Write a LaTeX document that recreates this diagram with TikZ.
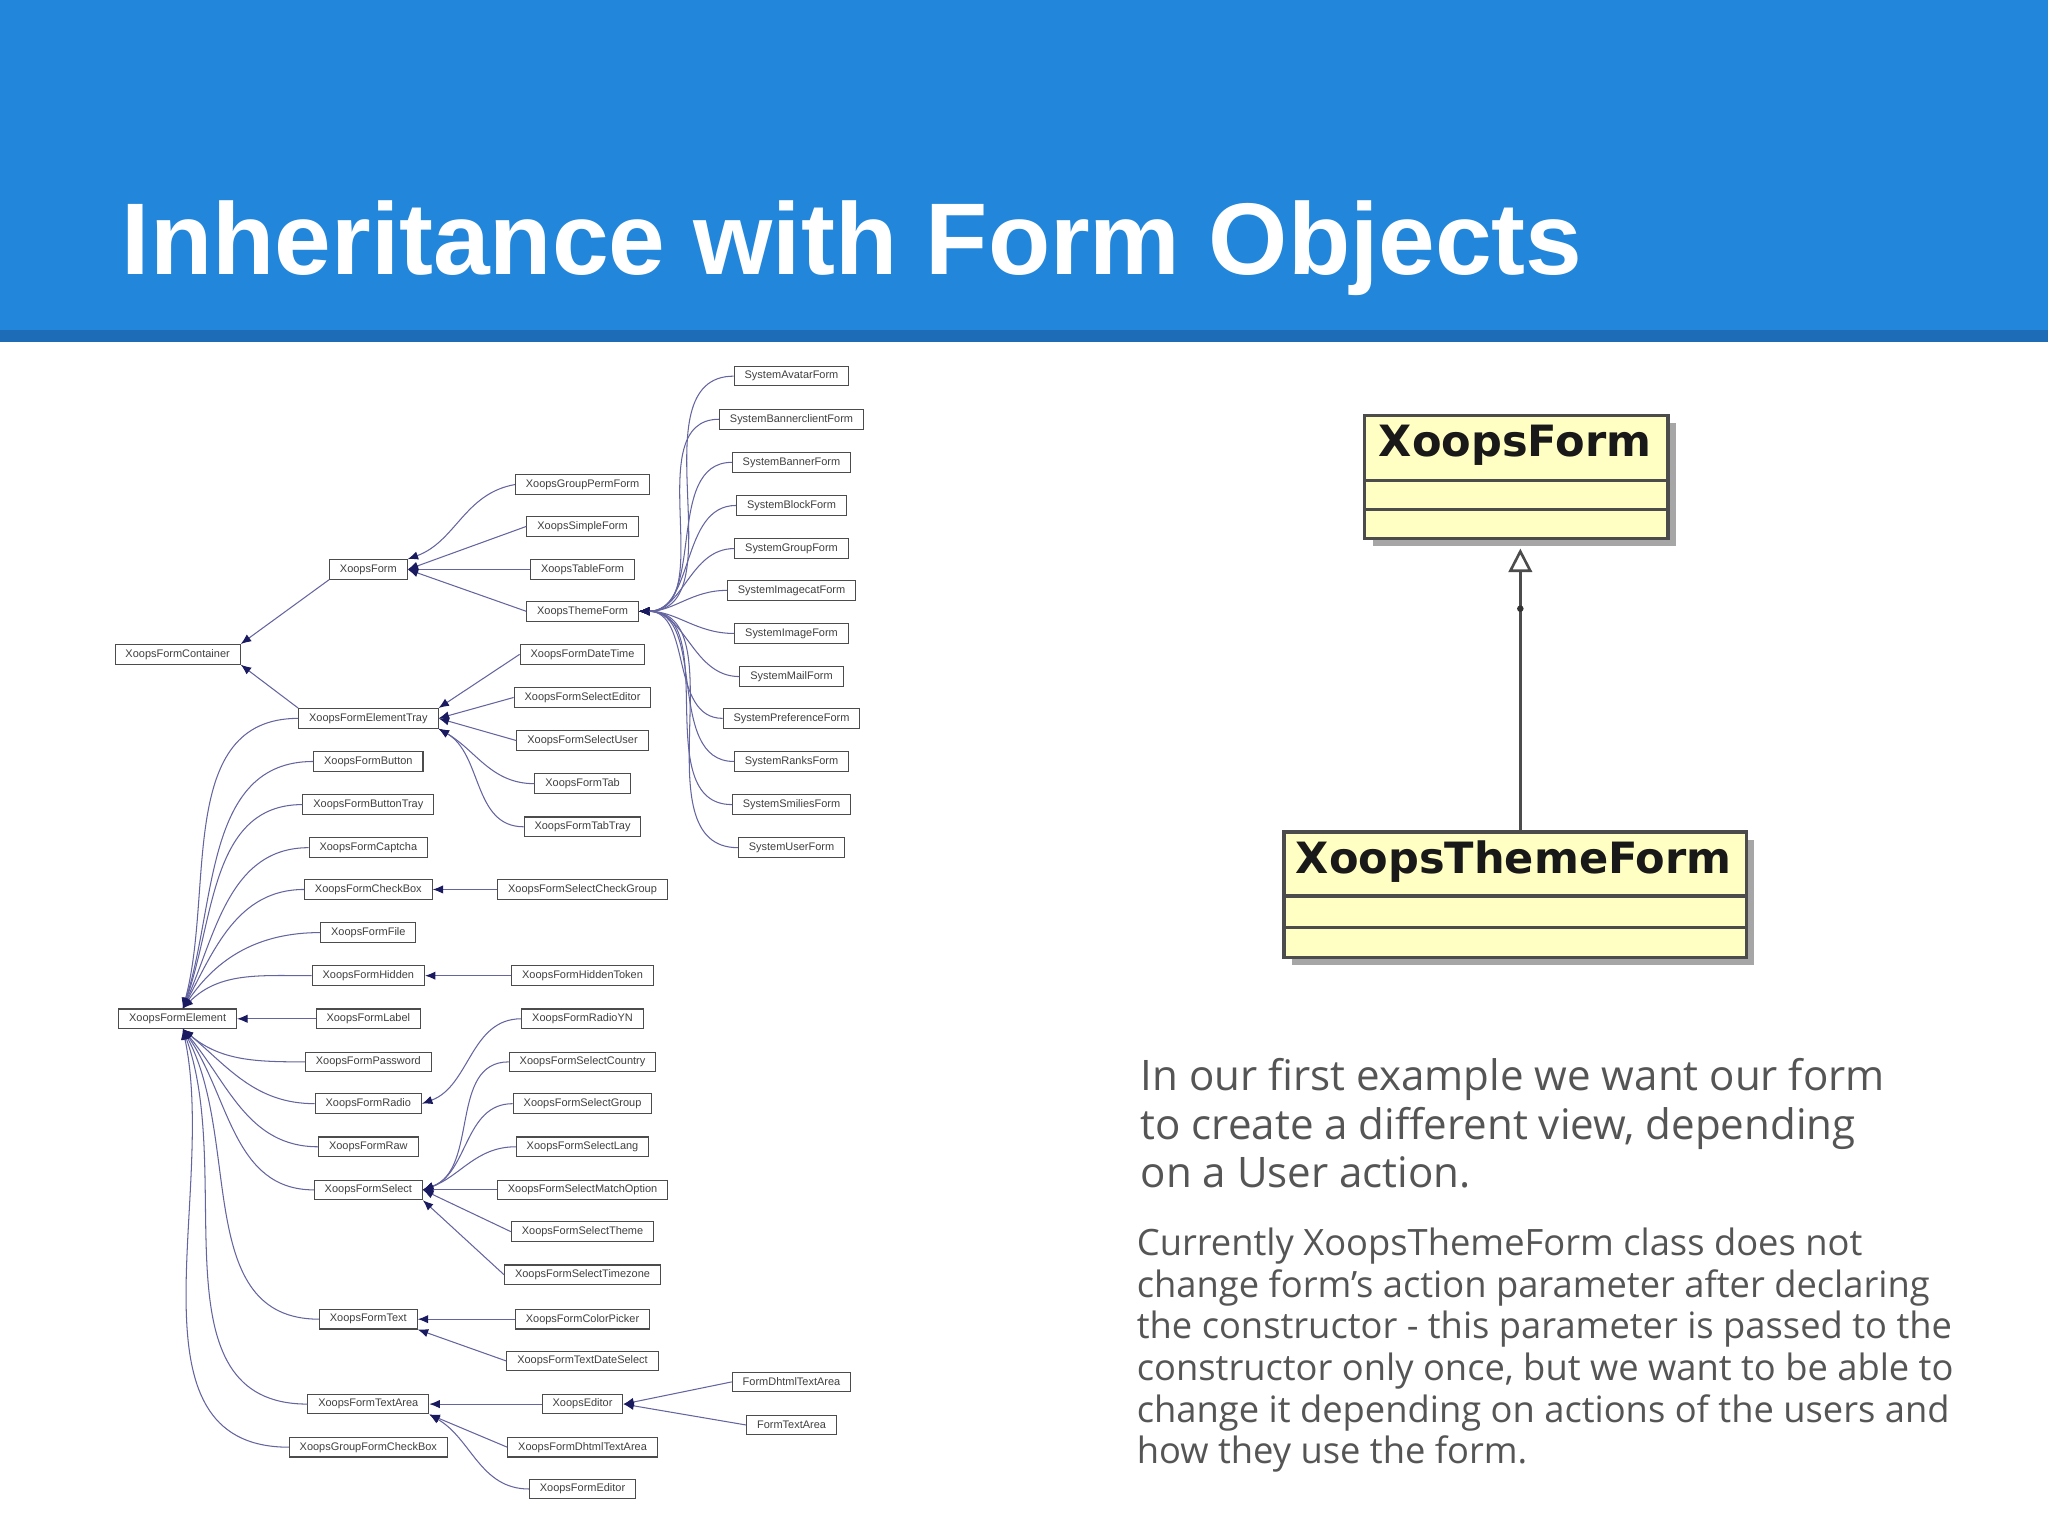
\documentclass[tikz,border=0pt]{standalone}
\usepackage{fontspec}
\setmainfont{Open Sans}
\newfontfamily\titlefont{Liberation Sans}
\newfontfamily\umlfont{DejaVu Sans}
\newfontfamily\tinyfont{Liberation Sans}
\usetikzlibrary{arrows.meta,calc}
\definecolor{hdr}{HTML}{2287DB}
\definecolor{hdrdark}{HTML}{1C6CB8}
\definecolor{edgec}{HTML}{6464A0}
\definecolor{tipc}{HTML}{1A1A60}
\definecolor{umlfill}{HTML}{FFFFC4}
\definecolor{txt}{HTML}{555555}
\tikzset{
 cls/.style={draw=black!70,line width=0.4pt,fill=white,inner xsep=4pt,inner ysep=0pt,minimum height=7.5pt,font=\tinyfont\fontsize{4.2}{5}\selectfont,text=black!75},
 inh/.style={draw=edgec,line width=0.4pt,-{Latex[length=4pt,width=3.2pt,color=tipc]}},
}
\begin{document}
\begin{tikzpicture}[x=0.5pt,y=-0.5pt]
\useasboundingbox (0,0) rectangle (1568,1176);
\fill[white] (0,0) rectangle (1568,1176);
\fill[hdr] (0,0) rectangle (1568,255);
\fill[hdrdark] (0,253) rectangle (1568,262);
\node[anchor=base west,inner sep=0,text=white,font=\titlefont\bfseries\fontsize{39}{44}\selectfont] (title) at (93,210) {Inheritance with Form Objects};

% ---- tree nodes ----
\node[cls] (cont) at (136,501) {XoopsFormContainer};
\node[cls] (form) at (282,436) {XoopsForm};
\node[cls] (tray) at (282,550) {XoopsFormElementTray};
\node[cls] (elem) at (136,780) {XoopsFormElement};

\node[cls] (button) at (282,583) {XoopsFormButton};
\node[cls] (buttontray) at (282,616) {XoopsFormButtonTray};
\node[cls] (captcha) at (282,649) {XoopsFormCaptcha};
\node[cls] (checkbox) at (282,681) {XoopsFormCheckBox};
\node[cls] (file) at (282,714) {XoopsFormFile};
\node[cls] (hidden) at (282,747) {XoopsFormHidden};
\node[cls] (label) at (282,780) {XoopsFormLabel};
\node[cls] (password) at (282,813) {XoopsFormPassword};
\node[cls] (radio) at (282,845) {XoopsFormRadio};
\node[cls] (raw) at (282,878) {XoopsFormRaw};
\node[cls] (select) at (282,911) {XoopsFormSelect};
\node[cls] (text) at (282,1010) {XoopsFormText};
\node[cls] (textarea) at (282,1075) {XoopsFormTextArea};
\node[cls] (groupcb) at (282,1108) {XoopsGroupFormCheckBox};

\node[cls] (groupperm) at (446,371) {XoopsGroupPermForm};
\node[cls] (simple) at (446,403) {XoopsSimpleForm};
\node[cls] (table) at (446,436) {XoopsTableForm};
\node[cls] (theme) at (446,468) {XoopsThemeForm};
\node[cls] (datetime) at (446,501) {XoopsFormDateTime};
\node[cls] (seleditor) at (446,534) {XoopsFormSelectEditor};
\node[cls] (seluser) at (446,567) {XoopsFormSelectUser};
\node[cls] (tab) at (446,600) {XoopsFormTab};
\node[cls] (tabtray) at (446,633) {XoopsFormTabTray};
\node[cls] (selcheck) at (446,681) {XoopsFormSelectCheckGroup};
\node[cls] (htoken) at (446,747) {XoopsFormHiddenToken};
\node[cls] (radioyn) at (446,780) {XoopsFormRadioYN};
\node[cls] (selcountry) at (446,813) {XoopsFormSelectCountry};
\node[cls] (selgroup) at (446,845) {XoopsFormSelectGroup};
\node[cls] (sellang) at (446,878) {XoopsFormSelectLang};
\node[cls] (selmatch) at (446,911) {XoopsFormSelectMatchOption};
\node[cls] (seltheme) at (446,943) {XoopsFormSelectTheme};
\node[cls] (seltz) at (446,976) {XoopsFormSelectTimezone};
\node[cls] (color) at (446,1010) {XoopsFormColorPicker};
\node[cls] (tds) at (446,1042) {XoopsFormTextDateSelect};
\node[cls] (editor) at (446,1075) {XoopsEditor};
\node[cls] (dhtml) at (446,1108) {XoopsFormDhtmlTextArea};
\node[cls] (feditor) at (446,1140) {XoopsFormEditor};

\node[cls] (s1) at (606,288) {SystemAvatarForm};
\node[cls] (s2) at (606,321) {SystemBannerclientForm};
\node[cls] (s3) at (606,354) {SystemBannerForm};
\node[cls] (s4) at (606,387) {SystemBlockForm};
\node[cls] (s5) at (606,420) {SystemGroupForm};
\node[cls] (s6) at (606,452) {SystemImagecatForm};
\node[cls] (s7) at (606,485) {SystemImageForm};
\node[cls] (s8) at (606,518) {SystemMailForm};
\node[cls] (s9) at (606,550) {SystemPreferenceForm};
\node[cls] (s10) at (606,583) {SystemRanksForm};
\node[cls] (s11) at (606,616) {SystemSmiliesForm};
\node[cls] (s12) at (606,649) {SystemUserForm};
\node[cls] (fdhtml) at (606,1058) {FormDhtmlTextArea};
\node[cls] (fta) at (606,1091) {FormTextArea};

% ---- edges ----
\draw[inh] (form.south west) -- (cont.north east);
\draw[inh] (tray.north west) -- (cont.south east);
\draw[inh] (groupperm.west) to[out=190,in=20] (form.north east);
\draw[inh] (simple.west) -- (form.east);
\draw[inh] (table.west) -- (form.east);
\draw[inh] (theme.west) -- (form.east);
\foreach \s in {s1,s2,s3,s4,s5,s6,s7,s8,s9,s10,s11,s12}
  \draw[inh] (\s.west) to[out=180,in=0] (theme.east);
\draw[inh] (datetime.west) -- (tray.north east);
\foreach \c in {seleditor,seluser} \draw[inh] (\c.west) -- (tray.east);
\foreach \c in {tab,tabtray} \draw[inh] (\c.west) to[out=180,in=-30] (tray.south east);
\foreach \c/\a in {tray/75,button/72,buttontray/70,captcha/66,checkbox/62,file/56,hidden/45} 
  \draw[inh] (\c.west) to[out=180,in=\a] ($(elem.north)+(4,0)$);
\draw[inh] (label.west) -- (elem.east);
\foreach \c/\a in {password/-40,radio/-40,raw/-50,select/-55,text/-62,textarea/-70,groupcb/-78}
  \draw[inh] (\c.west) to[out=180,in=\a] ($(elem.south)+(4,0)$);
\draw[inh] (selcheck.west) -- (checkbox.east);
\draw[inh] (htoken.west) -- (hidden.east);
\draw[inh] (radioyn.west) to[out=180,in=20] (radio.east);
\foreach \c in {selcountry,selgroup,sellang} \draw[inh] (\c.west) to[out=180,in=20] (select.east);
\draw[inh] (selmatch.west) -- (select.east);
\draw[inh] (seltheme.west) -- (select.east);
\draw[inh] (seltz.west) -- (select.south east);
\draw[inh] (color.west) -- (text.east);
\draw[inh] (tds.west) -- (text.south east);
\draw[inh] (editor.west) -- (textarea.east);
\draw[inh] (dhtml.west) -- (textarea.south east);
\draw[inh] (feditor.west) to[out=180,in=-30] (textarea.south east);
\draw[inh] (fdhtml.west) -- (editor.east);
\draw[inh] (fta.west) -- (editor.east);

% ---- UML ----
\fill[black!35] (1051,324) rectangle (1283,418);
\filldraw[fill=umlfill,draw=black!70,line width=1.2pt] (1045,318) rectangle (1277,412);
\draw[black!70,line width=1.2pt] (1045,368) -- (1277,368) (1045,390) -- (1277,390);
\node[font=\umlfont\bfseries\fontsize{16.5}{20}\selectfont,inner sep=0,text=black!90] (uf) at (1160,341) {XoopsForm};
\fill[black!35] (989,643) rectangle (1343,739);
\filldraw[fill=umlfill,draw=black!70,line width=1.2pt] (983,637) rectangle (1337,733);
\draw[black!70,line width=1.2pt] (983,686) -- (1337,686) (983,710) -- (1337,710);
\node[font=\umlfont\bfseries\fontsize{16.5}{20}\selectfont,inner sep=0,text=black!90] (utf) at (1159,660) {XoopsThemeForm};
\coordinate (ua) at (1164,420);
\coordinate (ub) at (1164,637);
\draw[black!70,line width=1pt,-{Triangle[open,length=9pt,width=9pt,fill=white]}] (ub) -- (ua);
\fill[black!80] (1164,466) circle (2.5);

% ---- text ----
\node[anchor=north west,align=left,inner sep=0,text=txt,font=\fontsize{16.1}{18.6}\selectfont] (p1) at (873,810) {In our first example we want our form\\to create a different view, depending\\on a User action.};
\node[anchor=north west,align=left,inner sep=0,text=txt,font=\fontsize{13.9}{15.9}\selectfont] (p2) at (870,940) {Currently XoopsThemeForm class does not\\change form's action parameter after declaring\\the constructor - this parameter is passed to the\\constructor only once, but we want to be able to\\change it depending on actions of the users and\\how they use the form.};
\end{tikzpicture}
\end{document}
